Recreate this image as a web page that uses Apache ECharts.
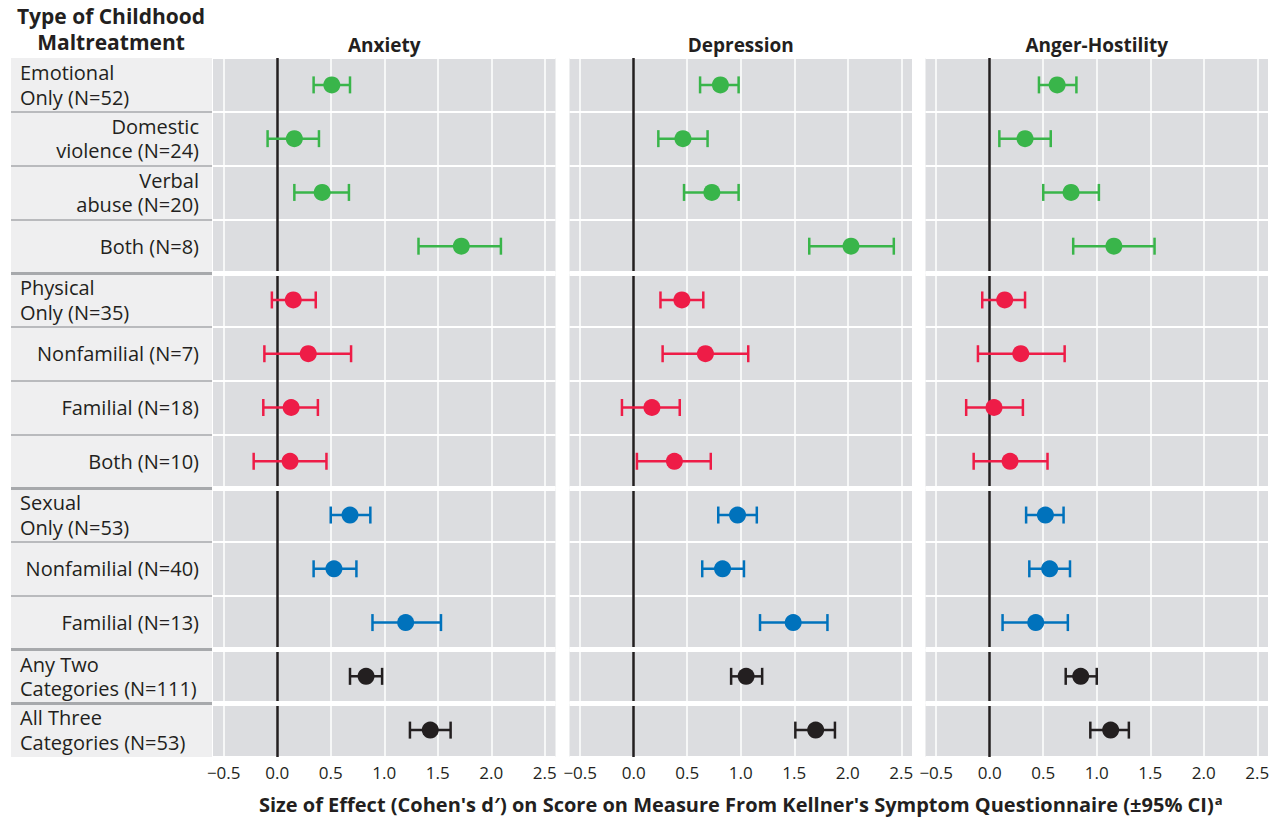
<!DOCTYPE html>
<html>
<head>
<meta charset="utf-8">
<script src="https://cdn.jsdelivr.net/npm/echarts@6/dist/echarts.min.js"></script>
<style>
html,body{margin:0;padding:0;background:#fff;}
#chart{width:1278px;height:820px;}
</style>
</head>
<body>
<div id="chart"></div>
<script>
// ---------- DATA ----------
const categories = [
  'Emotional\nOnly (N=52)', 'Domestic\nviolence (N=24)', 'Verbal\nabuse (N=20)', 'Both (N=8)',
  'Physical\nOnly (N=35)', 'Nonfamilial (N=7)', 'Familial (N=18)', 'Both (N=10)',
  'Sexual\nOnly (N=53)', 'Nonfamilial (N=40)', 'Familial (N=13)',
  'Any Two\nCategories (N=111)', 'All Three\nCategories (N=53)'
];
const groups = ['Emotional','Emotional','Emotional','Emotional',
  'Physical','Physical','Physical','Physical',
  'Sexual','Sexual','Sexual','Two','Three'];
const panelTitles = ['Anxiety', 'Depression', 'Anger-Hostility'];

const anxiety   = [0.51, 0.16, 0.42, 1.72, 0.15, 0.29, 0.13, 0.12, 0.68, 0.53, 1.20, 0.83, 1.43];
const anxietyLo = [0.34,-0.09, 0.16, 1.32,-0.05,-0.12,-0.13,-0.22, 0.50, 0.34, 0.89, 0.68, 1.24];
const anxietyHi = [0.68, 0.39, 0.67, 2.09, 0.36, 0.69, 0.38, 0.46, 0.87, 0.74, 1.53, 0.98, 1.62];

const depression   = [0.81, 0.46, 0.73, 2.03, 0.45, 0.67, 0.17, 0.38, 0.97, 0.83, 1.49, 1.05, 1.70];
const depressionLo = [0.62, 0.23, 0.47, 1.64, 0.25, 0.27,-0.11, 0.03, 0.79, 0.64, 1.18, 0.91, 1.51];
const depressionHi = [0.98, 0.69, 0.98, 2.43, 0.65, 1.07, 0.43, 0.72, 1.15, 1.03, 1.81, 1.20, 1.88];

const anger   = [0.63, 0.33, 0.76, 1.16, 0.14, 0.29, 0.04, 0.19, 0.52, 0.56, 0.43, 0.85, 1.13];
const angerLo = [0.46, 0.09, 0.50, 0.78,-0.07,-0.11,-0.22,-0.15, 0.34, 0.37, 0.12, 0.71, 0.94];
const angerHi = [0.81, 0.57, 1.02, 1.54, 0.33, 0.70, 0.31, 0.54, 0.69, 0.75, 0.73, 1.00, 1.30];

const xTicks = [-0.5, 0, 0.5, 1, 1.5, 2, 2.5];

// ---------- STYLE ----------
const groupColors = { Emotional:'#39b54a', Physical:'#ee1c47', Sexual:'#0072bc', Two:'#231f20', Three:'#231f20' };
const FONT = '"Open Sans", "Noto Sans", sans-serif';
const TXT = '#231f20';
const panelBg = '#dcdde0';
const labelBg = '#efeff0';
const sepGray = '#a7a9ac';

const nRows = categories.length;
const rowCenters = categories.map((_, i) => i + 0.5);
const isHeader = groups.map((g, i) => i === 0 || groups[i - 1] !== g);
const headerCenters = rowCenters.filter((_, i) => isHeader[i]);
const subCenters = rowCenters.filter((_, i) => !isHeader[i]);
const boundaries = [];
for (let i = 1; i < nRows; i++) boundaries.push({ y: i, thick: groups[i] !== groups[i - 1] });

const panels = [
  { d: anxiety, lo: anxietyLo, hi: anxietyHi, left: 213 },
  { d: depression, lo: depressionLo, hi: depressionHi, left: 569.5 },
  { d: anger, lo: angerLo, hi: angerHi, left: 925.5 }
];
const TOP = 58, H = 699, PW = 342.5;

const fmtTick = v => (v < 0 ? '\u2212' + Math.abs(v).toFixed(1) : v.toFixed(1));

const grid = [{ left: 11, top: TOP, width: 201, height: H, show: true, backgroundColor: labelBg, borderWidth: 0 }];
const xAxis = [{ gridIndex: 0, type: 'value', min: 0, max: 1, show: false }];
const yAxis = [{
  gridIndex: 0, type: 'value', min: 0, max: nRows, inverse: true, position: 'left',
  axisLine: { show: false }, axisTick: { show: false }, splitLine: { show: false },
  axisLabel: {
    inside: true, margin: 9, align: 'left', customValues: headerCenters,
    formatter: v => categories[Math.floor(v)],
    fontFamily: FONT, fontSize: 20, color: TXT, lineHeight: 24.5
  }
}];
const series = [{
  type: 'scatter', xAxisIndex: 0, yAxisIndex: 0, data: [], silent: true, z: 2,
  markLine: {
    silent: true, symbol: 'none', label: { show: false }, animation: false, z: 2,
    data: boundaries.map(b => ({ yAxis: b.y, lineStyle: { color: sepGray, width: b.thick ? 3 : 1.5, type: 'solid' } }))
  }
}];

panels.forEach((p, k) => {
  const gi = k + 1;
  grid.push({ left: p.left, top: TOP, width: PW, height: H, show: true, backgroundColor: panelBg, borderWidth: 0 });
  const xa = {
    gridIndex: gi, type: 'value', min: -0.6, max: 2.6,
    axisLine: { show: false }, axisTick: { show: false }, splitLine: { show: false },
    axisLabel: { customValues: xTicks, formatter: fmtTick, fontFamily: FONT, fontSize: 17, color: TXT, margin: 7 }
  };
  if (k === 1) {
    xa.name = "{t|Size of Effect (Cohen's d\u2032) on Score on Measure From Kellner's Symptom Questionnaire (\u00b195% CI)}{s|a}";
    xa.nameLocation = 'middle';
    xa.nameGap = 36;
    xa.nameTextStyle = {
      rich: {
        t: { fontFamily: FONT, fontSize: 20, fontWeight: 'bold', color: TXT },
        s: { fontFamily: FONT, fontSize: 13, fontWeight: 'bold', color: TXT, padding: [0, 0, 10, 1] }
      }
    };
  }
  xAxis.push(xa);
  yAxis.push({
    gridIndex: gi, type: 'value', min: 0, max: nRows, interval: 1, inverse: true,
    axisLine: { show: false }, axisTick: { show: false }, axisLabel: { show: false },
    splitLine: { show: true, lineStyle: { color: '#ffffff', width: 2 } }
  });
  const base = { xAxisIndex: gi, yAxisIndex: gi, silent: true, animation: false };
  // vertical gridlines
  series.push(Object.assign({}, base, {
    type: 'scatter', data: [], z: 1,
    markLine: { silent: true, symbol: 'none', label: { show: false }, animation: false, z: 1,
      lineStyle: { color: '#ffffff', width: 1.5, type: 'solid' },
      data: xTicks.filter(v => v !== 0).map(v => ({ xAxis: v })) }
  }));
  // zero reference line
  series.push(Object.assign({}, base, {
    type: 'scatter', data: [], z: 2,
    markLine: { silent: true, symbol: 'none', label: { show: false }, animation: false, z: 2,
      lineStyle: { color: '#231f20', width: 2.5, type: 'solid' },
      data: [{ xAxis: 0 }] }
  }));
  // thick group separators
  series.push(Object.assign({}, base, {
    type: 'scatter', data: [], z: 3,
    markLine: { silent: true, symbol: 'none', label: { show: false }, animation: false, z: 3,
      lineStyle: { color: '#ffffff', width: 5, type: 'solid' },
      data: boundaries.filter(b => b.thick).map(b => ({ yAxis: b.y })) }
  }));
  // error bars
  series.push(Object.assign({}, base, {
    type: 'custom', z: 6,
    encode: { x: [0, 1], y: 2 },
    data: p.d.map((_, i) => [p.lo[i], p.hi[i], rowCenters[i], i]),
    renderItem: (params, api) => {
      const y = api.value(2);
      const a = api.coord([api.value(0), y]);
      const b = api.coord([api.value(1), y]);
      const c = groupColors[groups[api.value(3)]];
      const h = 8.5;
      const st = { stroke: c, lineWidth: 2.5 };
      return { type: 'group', children: [
        { type: 'line', shape: { x1: a[0], y1: a[1], x2: b[0], y2: b[1] }, style: st },
        { type: 'line', shape: { x1: a[0], y1: a[1] - h, x2: a[0], y2: a[1] + h }, style: st },
        { type: 'line', shape: { x1: b[0], y1: b[1] - h, x2: b[0], y2: b[1] + h }, style: st }
      ] };
    }
  }));
  // points
  series.push(Object.assign({}, base, {
    type: 'scatter', z: 7, symbol: 'circle', symbolSize: 17,
    data: p.d.map((v, i) => ({ value: [v, rowCenters[i]], itemStyle: { color: groupColors[groups[i]], opacity: 1 } }))
  }));
});

// right-aligned (sub-category) labels in the label column
yAxis.push({
  gridIndex: 0, type: 'value', min: 0, max: nRows, inverse: true, position: 'right',
  axisLine: { show: false }, axisTick: { show: false }, splitLine: { show: false },
  axisLabel: {
    inside: true, margin: 13, align: 'right', customValues: subCenters,
    formatter: v => categories[Math.floor(v)],
    fontFamily: FONT, fontSize: 20, color: TXT, lineHeight: 24.5
  }
});

const graphic = [
  { type: 'text', x: 111, y: 29, style: { text: 'Type of Childhood\nMaltreatment', align: 'center', verticalAlign: 'middle',
      font: 'bold 21px ' + FONT, fill: TXT, lineHeight: 25.5 } }
].concat(panels.map((p, k) => ({
  type: 'text', x: p.left + PW / 2, y: 45,
  style: { text: panelTitles[k], align: 'center', verticalAlign: 'middle', font: 'bold 19px ' + FONT, fill: TXT }
})));

const chart = echarts.init(document.getElementById('chart'), null, { renderer: 'svg' });
chart.setOption({
  animation: false,
  backgroundColor: '#ffffff',
  textStyle: { fontFamily: FONT },
  grid, xAxis, yAxis, series, graphic
});
</script>
</body>
</html>
